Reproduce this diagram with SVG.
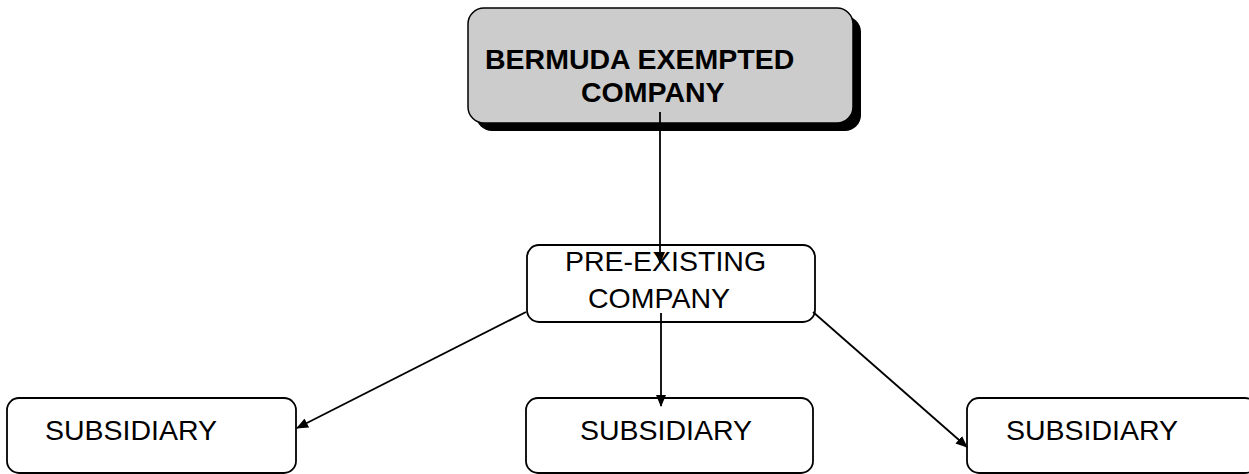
<svg xmlns="http://www.w3.org/2000/svg" width="1249" height="474" viewBox="0 0 1249 474">
<defs>
<marker id="ah" markerWidth="12" markerHeight="10" refX="11" refY="5" orient="auto" markerUnits="userSpaceOnUse">
<path d="M0,0 L12,5 L0,10 Z" fill="#000"/>
</marker>
<style>
.box{fill:#fff;stroke:#000;stroke-width:1.8}
.reg{font-family:"Liberation Sans",Arial,sans-serif;font-size:28.5px;fill:#000}
.bold{font-family:"Liberation Sans",Arial,sans-serif;font-size:28.5px;font-weight:bold;fill:#000}
.con{stroke:#000;stroke-width:1.8;fill:none;marker-end:url(#ah)}
</style>
</defs>
<rect width="1249" height="474" fill="#fff"/>
<g id="bermuda">
<rect x="476" y="16" width="385" height="115" rx="16" fill="#000"/>
<rect x="468" y="8" width="385" height="115" rx="16" fill="#cccccc" stroke="#000" stroke-width="1.5"/>
<text class="bold" x="485" y="69">BERMUDA EXEMPTED</text>
<text class="bold" x="581" y="102">COMPANY</text>
</g>
<g id="preexisting">
<rect class="box" x="527" y="245" width="288" height="77" rx="12"/>
<text class="reg" x="565" y="271">PRE-EXISTING</text>
<text class="reg" x="588" y="308">COMPANY</text>
</g>
<g id="sub1">
<rect class="box" x="7" y="398" width="289" height="75" rx="12"/>
<text class="reg" x="45" y="440">SUBSIDIARY</text>
</g>
<g id="sub2">
<rect class="box" x="526" y="398" width="287" height="75" rx="12"/>
<text class="reg" x="580" y="440">SUBSIDIARY</text>
</g>
<g id="sub3">
<rect class="box" x="967" y="398" width="290" height="75" rx="12"/>
<text class="reg" x="1006" y="440">SUBSIDIARY</text>
</g>
<g id="connectors">
<line class="con" x1="660" y1="112" x2="660" y2="263"/>
<line class="con" x1="661" y1="313" x2="661" y2="406"/>
<line class="con" x1="526" y1="312" x2="297" y2="428"/>
<line class="con" x1="813" y1="312" x2="967" y2="447"/>
</g>
</svg>
